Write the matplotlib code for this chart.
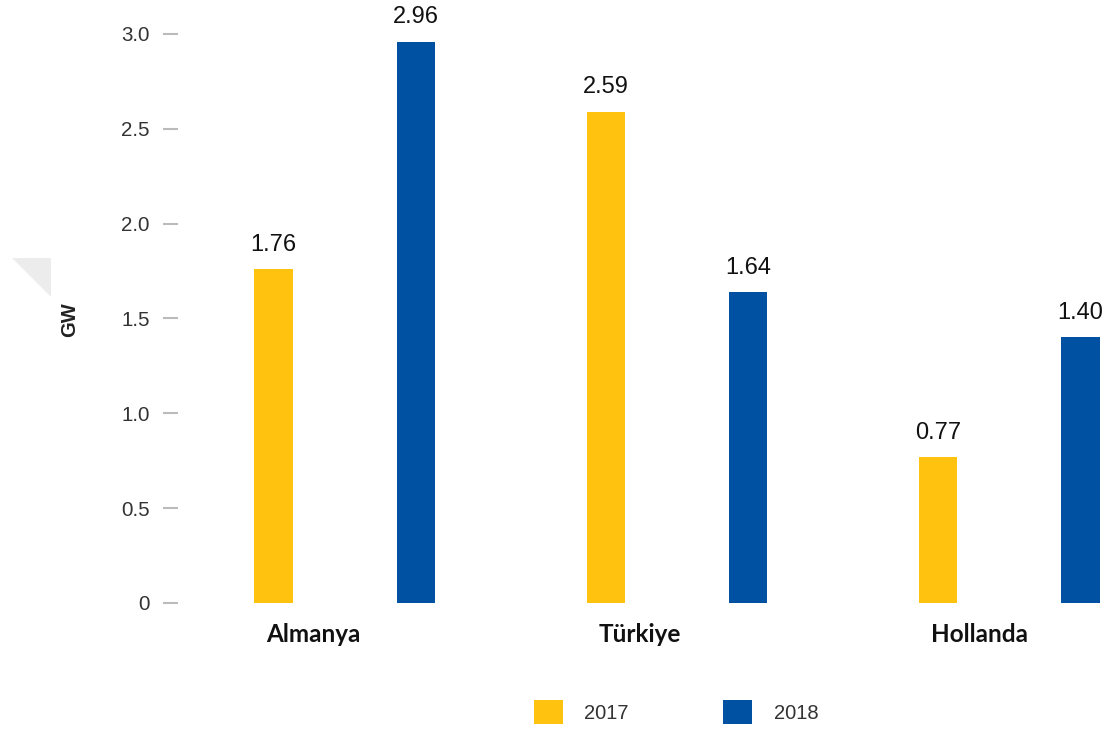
import matplotlib
matplotlib.use("Agg")
import matplotlib.pyplot as plt
from matplotlib.patches import Polygon, Patch
import numpy as np

categories = ["Almanya", "Türkiye", "Hollanda"]
years = ["2017", "2018"]
values_2017 = [1.76, 2.59, 0.77]
values_2018 = [2.96, 1.64, 1.40]
yticks = [0, 0.5, 1.0, 1.5, 2.0, 2.5, 3.0]
ytick_labels = ["0", "0.5", "1.0", "1.5", "2.0", "2.5", "3.0"]

c2017 = "#FFC20E"
c2018 = "#0051A2"

plt.rcParams['font.family'] = ['Liberation Sans', 'DejaVu Sans']

W, H = 1110, 733
fig = plt.figure(figsize=(W / 100, H / 100), dpi=100)
ax = fig.add_axes([178 / W, (H - 603) / H, (W - 178) / W, (603 - 11) / H])

x = np.arange(len(categories))
off = 0.2146
bw = 0.115
ax.bar(x - off, values_2017, bw, color=c2017)
ax.bar(x + off, values_2018, bw, color=c2018)

for xi, v in zip(x - off, values_2017):
    ax.text(xi, v + 0.07, f"{v:.2f}", ha="center", va="bottom", fontsize=17, color="#111111")
for xi, v in zip(x + off, values_2018):
    ax.text(xi, v + 0.07, f"{v:.2f}", ha="center", va="bottom", fontsize=17, color="#111111")

ax.set_ylim(0, (603 - 11) / 189.67)
ax.set_xlim((178 - 344.75) / 332.25, (W - 344.75) / 332.25)
ax.set_yticks(yticks)
ax.set_yticklabels(ytick_labels)
ax.tick_params(axis="y", length=11, width=1.5, color="#bbbbbb", pad=9.4,
               labelsize=14.8, labelcolor="#333333")
ax.set_xticks([])
for s in ax.spines.values():
    s.set_visible(False)

for xi, name in zip(x - off - bw / 2, categories):
    ax.text(xi + 0.036, -0.165, name, ha="left", va="center", fontsize=17.5,
            fontweight="bold", family=["Lato", "DejaVu Sans"], color="#111111")

fig.text(70 / W, 1 - 320 / H, "GW", rotation=90, ha="center", va="center",
         fontsize=14.5, fontweight="bold", color="#222222")

# faint decorative triangle from reference
tri = Polygon([(12 / W, 1 - 258 / H), (51 / W, 1 - 258 / H), (51 / W, 1 - 297 / H)],
              closed=True, transform=fig.transFigure, facecolor="#ececec", edgecolor="none")
fig.patches.append(tri)

handles = [Patch(facecolor=c2017), Patch(facecolor=c2018)]
fig.legend(handles, years, loc="center", bbox_to_anchor=(676 / W, 1 - 712 / H), ncol=2,
           frameon=False, fontsize=14.5, handlelength=1.45, handleheight=1.45,
           handletextpad=1.05, columnspacing=4.7, labelcolor="#333333")

fig.savefig("out.png", dpi=100)
